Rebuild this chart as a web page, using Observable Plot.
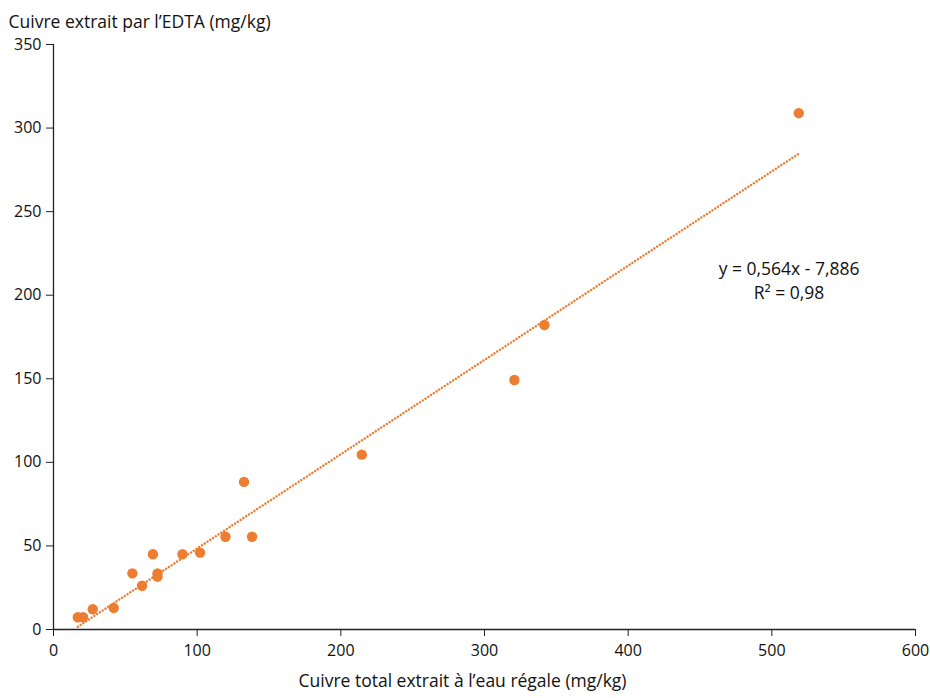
<!DOCTYPE html>
<html>
<head>
<meta charset="utf-8">
<script src="https://cdn.jsdelivr.net/npm/d3@7"></script>
<script src="https://cdn.jsdelivr.net/npm/@observablehq/plot@0.6"></script>
<style>
  html, body { margin: 0; padding: 0; background: #fff; }
  #chart svg { display: block; }
</style>
</head>
<body>
<div id="chart"></div>
<script>
// Data
const cuivreTotal = [16.9, 20.6, 27.3, 41.9, 54.9, 61.6, 69.2, 72.4, 72.4, 89.8, 102, 119.7, 138.2, 132.6, 214.6, 320.8, 341.7, 518.75];
const cuivreEDTA  = [7.3, 7.3, 12.1, 12.9, 33.6, 26.2, 45, 33.6, 31.6, 45, 46, 55.5, 55.5, 88.3, 104.6, 149.3, 182.2, 308.9];
const xTicks = [0, 100, 200, 300, 400, 500, 600];
const yTicks = [0, 50, 100, 150, 200, 250, 300, 350];
const slope = 0.564;
const intercept = -7.886;
const equationLines = ["y = 0,564x - 7,886", "R² = 0,98"];
const xTitle = "Cuivre total extrait à l’eau régale (mg/kg)";
const yTitle = "Cuivre extrait par l’EDTA (mg/kg)";

const points = cuivreTotal.map((x, i) => ({x, y: cuivreEDTA[i]}));
const xMin = d3.min(cuivreTotal), xMax = d3.max(cuivreTotal);
const trend = [xMin, xMax].map(x => ({x, y: slope * x + intercept}));

const orange = "#ED7D31";
const font = "'Open Sans', sans-serif";

const chart = Plot.plot({
  width: 930,
  height: 698,
  marginLeft: 53,
  marginRight: 15,
  marginTop: 44,
  marginBottom: 69,
  style: {fontFamily: font, fontSize: "16px", color: "#111", background: "#fff"},
  x: {domain: [0, 600], ticks: xTicks, label: null},
  y: {domain: [0, 350], ticks: yTicks, label: null},
  marks: [
    Plot.axisX({ticks: xTicks, tickSize: 7, tickPadding: 8, label: null, fontSize: 16, stroke: "#222"}),
    Plot.axisY({ticks: yTicks, tickSize: 7, tickPadding: 5, label: null, fontSize: 16, stroke: "#222"}),
    Plot.ruleX([0], {stroke: "#222", strokeWidth: 1.3}),
    Plot.ruleY([0], {stroke: "#222", strokeWidth: 1.3}),
    Plot.line(trend, {x: "x", y: "y", stroke: orange, strokeWidth: 2.4, strokeDasharray: "0.1,3.2", strokeLinecap: "round"}),
    Plot.dot(points, {x: "x", y: "y", r: 5.2, fill: orange, stroke: "none"}),
    Plot.text([equationLines.join("\n")], {x: 512, y: 209.5, text: d => d, fontSize: 17.5, textAnchor: "middle", lineAnchor: "middle", lineHeight: 1.35, fill: "#111"}),
    Plot.text([xTitle], {frameAnchor: "bottom", text: d => d, dx: -22, dy: 57, fontSize: 17.5, fill: "#111"}),
    Plot.text([yTitle], {frameAnchor: "top-left", text: d => d, dx: -45, dy: -29, fontSize: 17.5, textAnchor: "start", fill: "#111"})
  ]
});
document.getElementById("chart").appendChild(chart);
</script>
</body>
</html>
